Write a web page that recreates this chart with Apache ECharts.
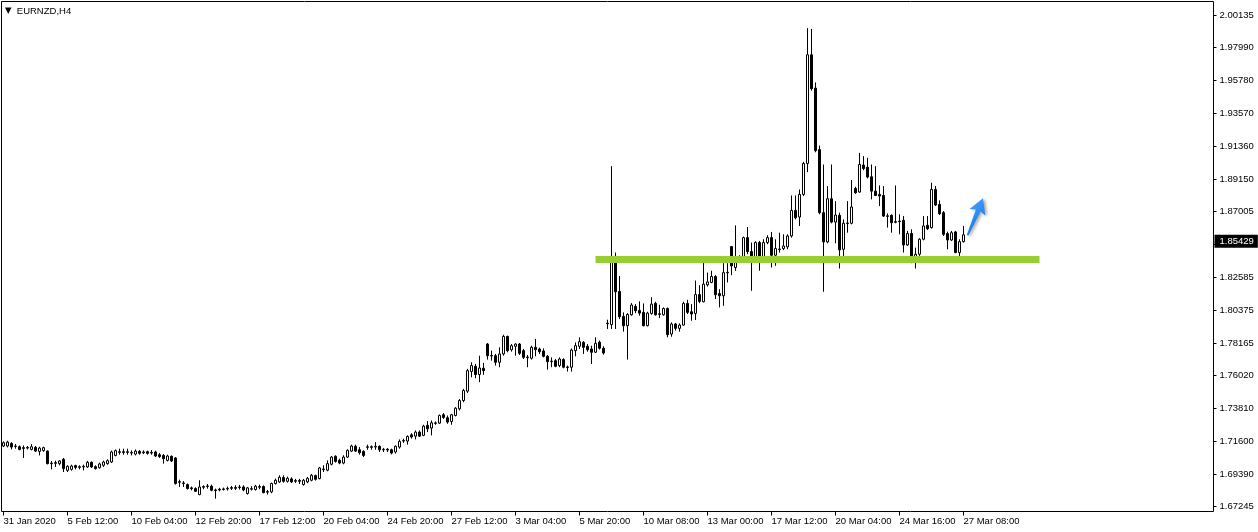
<!DOCTYPE html>
<html>
<head>
<meta charset="utf-8">
<script src="https://cdn.jsdelivr.net/npm/echarts@6/dist/echarts.min.js"></script>
<style>
html,body{margin:0;padding:0;background:#fff;}
#c{width:1258px;height:532px;}
</style>
</head>
<body>
<div id="c"></div>
<script>
// ---- data ----
const symbolName = 'EURNZD,H4';
const timeLabels = ['31 Jan 2020','5 Feb 12:00','10 Feb 04:00','12 Feb 20:00','17 Feb 12:00','20 Feb 04:00','24 Feb 20:00','27 Feb 12:00','3 Mar 04:00','5 Mar 20:00','10 Mar 08:00','13 Mar 00:00','17 Mar 12:00','20 Mar 04:00','24 Mar 16:00','27 Mar 08:00'];
const barsPerLabel = 16;
const priceTicks = [2.00135,1.97990,1.95780,1.93570,1.91360,1.89150,1.87005,1.84795,1.82585,1.80375,1.78165,1.76020,1.73810,1.71600,1.69390,1.67245];
// [open, close, low, high]
const candles = [
[1.7130,1.7152,1.7123,1.7161],[1.7130,1.7156,1.7121,1.7165],[1.7147,1.7123,1.7107,1.7156],[1.7127,1.7130,1.7112,1.7143],
[1.7125,1.7107,1.7101,1.7134],[1.7119,1.7114,1.7050,1.7134],[1.7116,1.7121,1.7107,1.7130],[1.7107,1.7125,1.7101,1.7143],
[1.7121,1.7096,1.7090,1.7130],[1.7094,1.7116,1.7067,1.7125],[1.7099,1.7119,1.7092,1.7125],[1.7096,1.7012,1.7007,1.7101],
[1.7012,1.7016,1.6974,1.7030],[1.7014,1.7019,1.6990,1.7032],[1.7012,1.7030,1.7001,1.7036],[1.7041,1.6979,1.6956,1.7050],
[1.6967,1.6994,1.6956,1.7001],[1.6974,1.6996,1.6965,1.7005],[1.6999,1.6987,1.6974,1.7005],[1.6987,1.6992,1.6974,1.7001],
[1.6990,1.6994,1.6967,1.7005],[1.6990,1.7021,1.6983,1.7030],[1.7021,1.6990,1.6983,1.7027],[1.6992,1.6979,1.6972,1.7001],
[1.6985,1.7010,1.6979,1.7019],[1.7001,1.7023,1.6990,1.7032],[1.7012,1.7032,1.7005,1.7041],[1.7023,1.7090,1.7016,1.7099],
[1.7067,1.7099,1.7061,1.7107],[1.7087,1.7092,1.7072,1.7112],[1.7092,1.7087,1.7072,1.7112],[1.7087,1.7092,1.7072,1.7112],
[1.7083,1.7087,1.7067,1.7101],[1.7076,1.7096,1.7067,1.7107],[1.7094,1.7081,1.7072,1.7103],[1.7085,1.7090,1.7076,1.7101],
[1.7092,1.7081,1.7072,1.7099],[1.7083,1.7087,1.7072,1.7103],[1.7090,1.7063,1.7056,1.7099],[1.7072,1.7059,1.7050,1.7083],
[1.7067,1.7045,1.7012,1.7076],[1.7034,1.7063,1.7027,1.7072],[1.7061,1.7030,1.7023,1.7067],[1.7050,1.6879,1.6872,1.7056],
[1.6887,1.6892,1.6856,1.6905],[1.6883,1.6879,1.6856,1.6896],[1.6872,1.6845,1.6839,1.6879],[1.6850,1.6845,1.6834,1.6859],
[1.6845,1.6827,1.6823,1.6854],[1.6805,1.6856,1.6801,1.6901],[1.6854,1.6859,1.6841,1.6867],[1.6859,1.6863,1.6845,1.6876],
[1.6861,1.6834,1.6827,1.6872],[1.6836,1.6832,1.6778,1.6845],[1.6836,1.6841,1.6827,1.6850],[1.6839,1.6843,1.6832,1.6852],
[1.6843,1.6847,1.6832,1.6859],[1.6847,1.6852,1.6836,1.6863],[1.6852,1.6847,1.6836,1.6867],[1.6852,1.6856,1.6839,1.6870],
[1.6856,1.6836,1.6827,1.6867],[1.6812,1.6850,1.6805,1.6856],[1.6841,1.6845,1.6832,1.6861],[1.6839,1.6861,1.6832,1.6870],
[1.6854,1.6859,1.6841,1.6872],[1.6859,1.6818,1.6814,1.6867],[1.6821,1.6825,1.6805,1.6836],[1.6823,1.6879,1.6814,1.6885],
[1.6879,1.6901,1.6872,1.6912],[1.6890,1.6921,1.6883,1.6934],[1.6919,1.6894,1.6885,1.6934],[1.6894,1.6914,1.6885,1.6925],
[1.6910,1.6890,1.6883,1.6921],[1.6894,1.6899,1.6883,1.6910],[1.6899,1.6894,1.6876,1.6910],[1.6872,1.6901,1.6865,1.6910],
[1.6890,1.6914,1.6881,1.6923],[1.6901,1.6934,1.6894,1.6943],[1.6932,1.6907,1.6899,1.6939],[1.6912,1.6983,1.6907,1.6990],
[1.6972,1.6976,1.6956,1.7001],[1.6968,1.7012,1.6961,1.7034],[1.7008,1.7056,1.7001,1.7063],[1.7061,1.7027,1.7019,1.7068],
[1.7034,1.7016,1.7008,1.7045],[1.7016,1.7056,1.7008,1.7068],[1.7056,1.7101,1.7050,1.7108],[1.7096,1.7130,1.7090,1.7139],
[1.7128,1.7096,1.7090,1.7139],[1.7105,1.7085,1.7072,1.7123],[1.7094,1.7067,1.7056,1.7101],[1.7121,1.7125,1.7105,1.7139],
[1.7125,1.7121,1.7105,1.7134],[1.7123,1.7128,1.7105,1.7156],[1.7128,1.7105,1.7090,1.7134],[1.7105,1.7108,1.7090,1.7116],
[1.7108,1.7103,1.7090,1.7116],[1.7105,1.7083,1.7074,1.7112],[1.7090,1.7128,1.7079,1.7134],[1.7123,1.7161,1.7112,1.7174],
[1.7163,1.7167,1.7150,1.7179],[1.7163,1.7194,1.7139,1.7201],[1.7205,1.7190,1.7179,1.7216],[1.7196,1.7223,1.7174,1.7234],
[1.7223,1.7196,1.7190,1.7234],[1.7201,1.7263,1.7196,1.7272],[1.7268,1.7245,1.7223,1.7297],[1.7250,1.7285,1.7201,1.7301],
[1.7281,1.7285,1.7272,1.7294],[1.7283,1.7334,1.7277,1.7341],[1.7339,1.7321,1.7312,1.7350],[1.7319,1.7290,1.7279,1.7334],
[1.7294,1.7339,1.7272,1.7345],[1.7334,1.7383,1.7328,1.7390],[1.7379,1.7434,1.7368,1.7444],[1.7434,1.7501,1.7423,1.7512],
[1.7497,1.7634,1.7485,1.7646],[1.7628,1.7668,1.7590,1.7690],[1.7663,1.7608,1.7583,1.7679],[1.7608,1.7652,1.7557,1.7734],
[1.7650,1.7634,1.7606,1.7686],[1.7812,1.7734,1.7708,1.7819],[1.7732,1.7736,1.7701,1.7768],[1.7734,1.7690,1.7668,1.7746],
[1.7690,1.7746,1.7657,1.7790],[1.7746,1.7863,1.7734,1.7874],[1.7863,1.7768,1.7757,1.7868],[1.7774,1.7801,1.7761,1.7812],
[1.7797,1.7812,1.7734,1.7817],[1.7812,1.7750,1.7739,1.7819],[1.7768,1.7723,1.7712,1.7779],[1.7721,1.7725,1.7657,1.7739],
[1.7717,1.7790,1.7708,1.7801],[1.7790,1.7774,1.7730,1.7846],[1.7779,1.7761,1.7746,1.7788],[1.7766,1.7730,1.7723,1.7783],
[1.7730,1.7694,1.7641,1.7739],[1.7694,1.7698,1.7657,1.7723],[1.7701,1.7663,1.7657,1.7712],[1.7668,1.7712,1.7657,1.7723],
[1.7708,1.7657,1.7650,1.7717],[1.7655,1.7659,1.7628,1.7668],[1.7657,1.7772,1.7628,1.7783],[1.7768,1.7801,1.7730,1.7823],
[1.7797,1.7828,1.7779,1.7857],[1.7823,1.7790,1.7746,1.7832],[1.7797,1.7774,1.7761,1.7812],[1.7779,1.7757,1.7679,1.7801],
[1.7757,1.7817,1.7752,1.7857],[1.7824,1.7784,1.7775,1.7835],[1.7784,1.7752,1.7741,1.7797],[1.7948,1.7952,1.7913,1.7975],
[1.7942,1.8386,1.7913,1.9002],[1.8386,1.8162,1.7913,1.8424],[1.8164,1.7995,1.7979,1.8268],[1.7997,1.7935,1.7895,1.8024],
[1.7935,1.8010,1.7708,1.8019],[1.8008,1.8073,1.8002,1.8086],[1.8064,1.8035,1.8019,1.8079],[1.8037,1.8019,1.8002,1.8098],
[1.8024,1.7935,1.7930,1.8084],[1.7935,1.8019,1.7930,1.8028],[1.8017,1.8079,1.8008,1.8125],[1.8084,1.8008,1.8002,1.8095],
[1.8010,1.8015,1.7986,1.8075],[1.8008,1.8050,1.8002,1.8057],[1.8050,1.7875,1.7857,1.8057],[1.7879,1.7946,1.7861,1.7957],
[1.7946,1.7917,1.7902,1.7953],[1.7917,1.7939,1.7895,1.7950],[1.7939,1.8084,1.7935,1.8095],[1.8084,1.8024,1.8013,1.8108],
[1.8028,1.8013,1.7968,1.8079],[1.8017,1.8143,1.7973,1.8237],[1.8143,1.8097,1.8086,1.8206],[1.8095,1.8213,1.8091,1.8395],
[1.8208,1.8228,1.8197,1.8290],[1.8224,1.8264,1.8219,1.8302],[1.8264,1.8142,1.8113,1.8273],[1.8150,1.8135,1.8057,1.8179],
[1.8135,1.8290,1.8068,1.8353],[1.8288,1.8292,1.8224,1.8353],[1.8464,1.8335,1.8273,1.8468],[1.8324,1.8384,1.8302,1.8606],
[1.8389,1.8393,1.8380,1.8406],[1.8386,1.8524,1.8357,1.8531],[1.8524,1.8431,1.8413,1.8595],[1.8431,1.8375,1.8168,1.8491],
[1.8380,1.8491,1.8357,1.8500],[1.8491,1.8397,1.8302,1.8502],[1.8397,1.8491,1.8386,1.8513],[1.8491,1.8524,1.8480,1.8540],
[1.8524,1.8406,1.8324,1.8562],[1.8406,1.8451,1.8335,1.8513],[1.8444,1.8448,1.8424,1.8557],[1.8451,1.8468,1.8440,1.8546],
[1.8462,1.8535,1.8446,1.8546],[1.8535,1.8706,1.8524,1.8806],[1.8706,1.8657,1.8646,1.8806],[1.8662,1.8813,1.8602,1.8846],
[1.8813,1.9020,1.8802,1.9031],[1.9020,1.9747,1.8962,1.9925],[1.9747,1.9520,1.9507,1.9920],[1.9524,1.9106,1.9095,1.9562],
[1.9113,1.8691,1.8680,1.9140],[1.8691,1.8495,1.8162,1.9013],[1.8495,1.8784,1.8486,1.8869],[1.8784,1.8628,1.8620,1.9013],
[1.8628,1.8675,1.8486,1.8768],[1.8673,1.8442,1.8317,1.8691],[1.8446,1.8620,1.8384,1.8646],[1.8618,1.8622,1.8557,1.8768],
[1.8620,1.8729,1.8613,1.8909],[1.8853,1.8824,1.8817,1.8864],[1.8829,1.9013,1.8824,1.9091],[1.9009,1.8986,1.8975,1.9069],
[1.8995,1.8929,1.8920,1.9058],[1.8931,1.8835,1.8780,1.9013],[1.8835,1.8806,1.8802,1.9002],[1.8813,1.8802,1.8735,1.8873],
[1.8806,1.8668,1.8662,1.8869],[1.8666,1.8670,1.8591,1.8686],[1.8673,1.8624,1.8557,1.8680],[1.8626,1.8631,1.8620,1.8873],
[1.8635,1.8631,1.8546,1.8680],[1.8640,1.8475,1.8424,1.8668],[1.8475,1.8551,1.8468,1.8569],[1.8551,1.8384,1.8353,1.8580],
[1.8380,1.8413,1.8317,1.8457],[1.8413,1.8513,1.8402,1.8520],[1.8513,1.8602,1.8506,1.8668],[1.8606,1.8584,1.8575,1.8668],
[1.8591,1.8846,1.8584,1.8891],[1.8846,1.8742,1.8735,1.8869],[1.8746,1.8684,1.8675,1.8773],[1.8691,1.8546,1.8535,1.8702],
[1.8551,1.8508,1.8446,1.8564],[1.8508,1.8557,1.8502,1.8569],[1.8562,1.8424,1.8420,1.8569],[1.8424,1.8497,1.8397,1.8513],
[1.8497,1.85429,1.8491,1.8602]
];
const lastPrice = 1.85429;
const supportLevel = 1.8376;
const supportFromBar = 148;
const supportToBar = 259;
const arrowBar = 243;
const arrowPrice = 1.8663;
const totalSlots = 303;   // bar slots visible in the window (incl. empty space on the right)
const priceMin = 1.66919;
const priceMax = 2.01035;

// ---- chart ----
const FONT = '"Liberation Sans", Arial, sans-serif';
const FS = 9.5;
const categories = Array.from({length: totalSlots}, (_, i) => String(i));
const showLabel = (i) => i % barsPerLabel === 0 && i / barsPerLabel < timeLabels.length;

const chart = echarts.init(document.getElementById('c'), null, {renderer: 'canvas'});
const option = {
  animation: false,
  backgroundColor: '#fff',
  title: {
    text: '{t|▼}  ' + symbolName,
    left: 5, top: 6, padding: 0,
    textStyle: {
      fontFamily: FONT, fontSize: 9.5, fontWeight: 'normal', color: '#000',
      rich: { t: { fontSize: 8.5, color: '#000', fontFamily: 'DejaVu Sans' } }
    }
  },
  grid: {
    left: 1.5, top: 1.5, width: totalSlots * 4, height: 510,
    show: true, borderColor: '#000', borderWidth: 1, backgroundColor: '#fff'
  },
  xAxis: {
    type: 'category', data: categories, boundaryGap: true,
    axisLine: { show: false },
    axisTick: { show: true, interval: showLabel, alignWithLabel: true, length: 4, lineStyle: { color: '#000', width: 1 } },
    axisLabel: {
      interval: showLabel, hideOverlap: false,
      formatter: (v) => timeLabels[Math.round(Number(v) / barsPerLabel)],
      align: 'left', margin: 5, color: '#000', fontFamily: FONT, fontSize: FS
    },
    splitLine: { show: false }
  },
  yAxis: {
    type: 'value', position: 'right', min: priceMin, max: priceMax, scale: true,
    axisLine: { show: false },
    splitLine: { show: false },
    axisTick: { show: true, customValues: priceTicks, length: 3, lineStyle: { color: '#000' } },
    axisLabel: { customValues: priceTicks, formatter: v => v.toFixed(5), margin: 6, color: '#000', fontFamily: FONT, fontSize: FS }
  },
  series: [
    {
      name: 'support', type: 'line', data: [], z: 1, silent: true,
      markLine: {
        silent: true, symbol: ['none', 'none'], label: { show: false },
        lineStyle: { color: '#9acd32', width: 7, type: 'solid', cap: 'butt' },
        data: [[{ coord: [supportFromBar, supportLevel] }, { coord: [supportToBar, supportLevel] }]]
      }
    },
    {
      name: 'EURNZD', type: 'candlestick', data: candles, z: 2, barWidth: 2, silent: true,
      itemStyle: { color: '#fff', color0: '#000', borderColor: '#000', borderColor0: '#000', borderWidth: 1 }
    },
    {
      name: 'price', type: 'line', data: [], z: 4, silent: true,
      markLine: {
        silent: true, symbol: ['none', 'none'],
        lineStyle: { width: 1, color: 'rgba(0,0,0,0)' },
        label: {
          show: true, position: 'end', formatter: lastPrice.toFixed(5),
          backgroundColor: '#000', color: '#fff', padding: [2, 4, 1, 5], distance: 1,
          fontFamily: FONT, fontSize: FS
        },
        data: [{ yAxis: lastPrice }]
      }
    },
    {
      name: 'arrow', type: 'line', data: [], z: 3, silent: true,
      markPoint: {
        silent: true,
        symbol: 'path://M9,0 L18,15 L11.8,13 L9.6,40 L7.6,40 L6.4,13 L0,15 Z',
        symbolSize: [17, 40], symbolRotate: -22,
        label: { show: false },
        itemStyle: {
          color: new echarts.graphic.LinearGradient(0, 0, 1, 1, [
            { offset: 0, color: '#4aa6ff' }, { offset: 1, color: '#0d6fe6' }
          ]),
          shadowColor: 'rgba(0,0,0,0.35)', shadowBlur: 3, shadowOffsetX: 2, shadowOffsetY: 1
        },
        data: [{ coord: [arrowBar, arrowPrice] }]
      }
    }
  ]
};
chart.setOption(option);
</script>
</body>
</html>
